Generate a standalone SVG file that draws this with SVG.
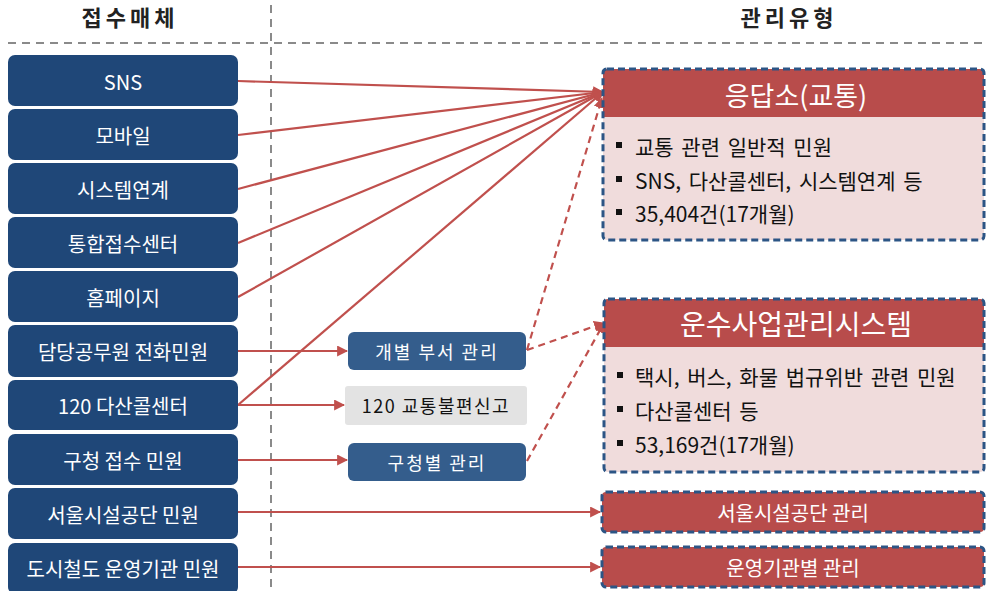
<svg xmlns="http://www.w3.org/2000/svg" width="987" height="591" viewBox="0 0 987 591">
<defs>
<style>
text{font-family:"Noto Sans CJK KR","Noto Sans",sans-serif;}
.hdr{font-size:22px;font-weight:bold;fill:#222;text-anchor:middle;letter-spacing:4px;}
.guide{stroke:#8a8a8a;stroke-width:2;stroke-dasharray:8,6;fill:none;}
.src rect{fill:#1f4778;}
.src text{fill:#fff;font-size:20px;text-anchor:middle;dominant-baseline:central;}
.mid rect{fill:#345d8c;}
.mid text{fill:#fff;font-size:18px;text-anchor:middle;dominant-baseline:central;letter-spacing:2px;}
.gray rect{fill:#e3e3e3;}
.gray text{fill:#111;font-size:18px;text-anchor:middle;dominant-baseline:central;letter-spacing:1.5px;}
.frame{fill:none;stroke:#2c5585;stroke-width:3;stroke-dasharray:7,4;}
.head{fill:#b84c4b;}
.body{fill:#f0dcdc;}
.ttl{fill:#fff;font-size:27px;text-anchor:middle;dominant-baseline:central;}
.bl{fill:#111;font-size:21px;dominant-baseline:central;word-spacing:3px;}
.sq{fill:#111;}
.small{fill:#fff;font-size:20px;text-anchor:middle;dominant-baseline:central;}
.ln{stroke:#c0504d;stroke-width:2.2;fill:none;}
.dl{stroke:#c0504d;stroke-width:2.2;fill:none;stroke-dasharray:7,5;}
</style>
<marker id="ah" viewBox="0 0 10 10" refX="9" refY="5" markerWidth="5" markerHeight="5" markerUnits="strokeWidth" orient="auto">
<path d="M0,0 L10,5 L0,10 z" fill="#c0504d"/>
</marker>
</defs>
<rect width="987" height="591" fill="#fff"/>

<g id="guides">
<line class="guide" x1="8" y1="43" x2="987" y2="43"/>
<line class="guide" x1="271" y1="5" x2="271" y2="591"/>
<text class="hdr" x="130" y="26">접수매체</text>
<text class="hdr" x="789" y="26">관리유형</text>
</g>

<g id="connectors">
<line class="ln" x1="238" y1="81" x2="603" y2="92" marker-end="url(#ah)"/>
<line class="ln" x1="238" y1="135" x2="603" y2="92" marker-end="url(#ah)"/>
<line class="ln" x1="238" y1="189" x2="603" y2="92" marker-end="url(#ah)"/>
<line class="ln" x1="238" y1="243" x2="603" y2="92" marker-end="url(#ah)"/>
<line class="ln" x1="238" y1="297" x2="603" y2="92" marker-end="url(#ah)"/>
<line class="ln" x1="238" y1="405" x2="603" y2="92" marker-end="url(#ah)"/>
<line class="ln" x1="238" y1="351" x2="347" y2="351" marker-end="url(#ah)"/>
<line class="ln" x1="238" y1="405" x2="344" y2="405" marker-end="url(#ah)"/>
<line class="ln" x1="238" y1="460" x2="347" y2="460" marker-end="url(#ah)"/>
<line class="ln" x1="238" y1="512" x2="600" y2="512" marker-end="url(#ah)"/>
<line class="ln" x1="238" y1="567" x2="600" y2="567" marker-end="url(#ah)"/>
<line class="dl" x1="527" y1="350" x2="602" y2="98" marker-end="url(#ah)"/>
<line class="dl" x1="527" y1="350" x2="604" y2="323" marker-end="url(#ah)"/>
<line class="dl" x1="527" y1="461" x2="604" y2="323" marker-end="url(#ah)"/>
</g>

<g id="n-sns" class="src"><rect x="8" y="55" width="230" height="51" rx="7"/><text x="123" y="81">SNS</text></g>
<g id="n-mobile" class="src"><rect x="8" y="109" width="230" height="51" rx="7"/><text x="123" y="135">모바일</text></g>
<g id="n-system" class="src"><rect x="8" y="163" width="230" height="51" rx="7"/><text x="123" y="189">시스템연계</text></g>
<g id="n-center" class="src"><rect x="8" y="217" width="230" height="51" rx="7"/><text x="123" y="243">통합접수센터</text></g>
<g id="n-home" class="src"><rect x="8" y="271" width="230" height="51" rx="7"/><text x="123" y="297">홈페이지</text></g>
<g id="n-phone" class="src"><rect x="8" y="325" width="230" height="52" rx="7"/><text x="123" y="351">담당공무원 전화민원</text></g>
<g id="n-120" class="src"><rect x="8" y="380" width="230" height="50" rx="7"/><text x="123" y="405">120 다산콜센터</text></g>
<g id="n-gu" class="src"><rect x="8" y="434" width="230" height="51" rx="7"/><text x="123" y="460">구청 접수 민원</text></g>
<g id="n-facility" class="src"><rect x="8" y="488" width="230" height="51" rx="7"/><text x="123" y="514">서울시설공단 민원</text></g>
<g id="n-metro" class="src"><rect x="8" y="543" width="230" height="51" rx="7"/><text x="123" y="568">도시철도 운영기관 민원</text></g>

<g id="m-dept" class="mid"><rect x="348" y="332" width="178" height="38" rx="6"/><text x="437" y="351">개별 부서 관리</text></g>
<g id="m-120" class="gray"><rect x="345" y="386" width="182" height="39" rx="3"/><text x="436" y="405">120 교통불편신고</text></g>
<g id="m-gu" class="mid"><rect x="348" y="443" width="178" height="38" rx="6"/><text x="437" y="462">구청별 관리</text></g>

<g id="r-eungdap">
<rect class="body" x="603" y="69" width="381" height="171" rx="4"/>
<path class="head" d="M607,69 H980 A4,4 0 0 1 984,73 V117 H603 V73 A4,4 0 0 1 607,69 z"/>
<rect class="frame" x="603" y="69" width="381" height="171" rx="4"/>
<text class="ttl" x="796" y="94">응답소(교통)</text>
<rect class="sq" x="616" y="142" width="6" height="6"/><text class="bl" x="635" y="146">교통 관련 일반적 민원</text>
<rect class="sq" x="616" y="176" width="6" height="6"/><text class="bl" x="635" y="180">SNS, 다산콜센터, 시스템연계 등</text>
<rect class="sq" x="616" y="209" width="6" height="6"/><text class="bl" x="635" y="213">35,404건(17개월)</text>
</g>

<g id="r-transport">
<rect class="body" x="604" y="299" width="380" height="173" rx="4"/>
<path class="head" d="M608,299 H980 A4,4 0 0 1 984,303 V347 H604 V303 A4,4 0 0 1 608,299 z"/>
<rect class="frame" x="604" y="299" width="380" height="173" rx="4"/>
<text class="ttl" x="796" y="323" style="font-size:28px">운수사업관리시스템</text>
<rect class="sq" x="617" y="372" width="6" height="6"/><text class="bl" x="635" y="376">택시, 버스, 화물 법규위반 관련 민원</text>
<rect class="sq" x="617" y="406" width="6" height="6"/><text class="bl" x="635" y="410">다산콜센터 등</text>
<rect class="sq" x="617" y="440" width="6" height="6"/><text class="bl" x="635" y="444">53,169건(17개월)</text>
</g>

<g id="r-facility">
<rect class="head" x="602" y="492" width="382" height="40" rx="4"/>
<rect class="frame" x="602" y="492" width="382" height="40" rx="4"/>
<text class="small" x="793" y="512">서울시설공단 관리</text>
</g>

<g id="r-metro">
<rect class="head" x="602" y="547" width="382" height="40" rx="4"/>
<rect class="frame" x="602" y="547" width="382" height="40" rx="4"/>
<text class="small" x="793" y="567">운영기관별 관리</text>
</g>
</svg>
